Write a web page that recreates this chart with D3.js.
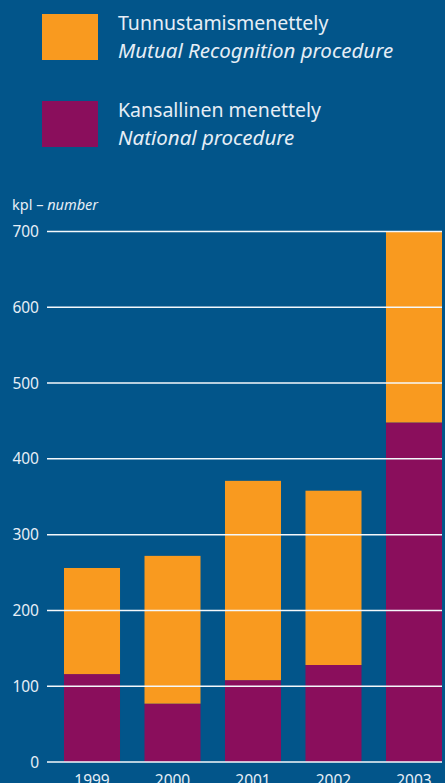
<!DOCTYPE html>
<html>
<head>
<meta charset="utf-8">
<script src="https://cdn.jsdelivr.net/npm/d3@7"></script>
<style>
  html, body { margin: 0; padding: 0; background: #02558A; }
  svg { display: block; }
  text { font-family: "Noto Sans", "Open Sans", sans-serif; fill: #E6EEF6; }
</style>
</head>
<body>
<svg id="chart" width="445" height="783"></svg>
<script>
// Medicinal product authorisations by procedure, 1999–2003
const years = ["1999", "2000", "2001", "2002", "2003"];
const national = [116, 77, 108, 128, 448];
const mutual = [140, 195, 263, 230, 252];
const yTicks = [0, 100, 200, 300, 400, 500, 600, 700];

const legendItems = [
  { fi: "Tunnustamismenettely", en: "Mutual Recognition procedure", color: "#F99A1F" },
  { fi: "Kansallinen menettely", en: "National procedure", color: "#8A0E5C" }
];

const svg = d3.select("#chart");
const W = 445, H = 783;

svg.append("rect").attr("width", W).attr("height", H).attr("fill", "#02558A");

// Legend
const lg = svg.append("g");
legendItems.forEach((d, i) => {
  const y0 = 14 + i * 87;
  lg.append("rect").attr("x", 42).attr("y", y0).attr("width", 56).attr("height", 46).attr("fill", d.color);
  lg.append("text").attr("x", 118).attr("y", y0 + 15.5).attr("font-size", 19.5).text(d.fi);
  lg.append("text").attr("x", 118).attr("y", y0 + 44).attr("font-size", 20.5).attr("font-style", "italic").text(d.en);
});

// Scales
const x = d3.scaleBand().domain(years).range([64, 442]).paddingInner(0.304).paddingOuter(0);
const y = d3.scaleLinear().domain([0, 700]).range([762, 231.5]);

const stackData = years.map((yr, i) => ({ year: yr, national: national[i], mutual: mutual[i] }));
const series = d3.stack().keys(["national", "mutual"])(stackData);
const colors = { national: "#8A0E5C", mutual: "#F99A1F" };

svg.append("g").selectAll("g").data(series).join("g")
  .attr("fill", s => colors[s.key])
  .selectAll("rect").data(s => s).join("rect")
  .attr("x", d => x(d.data.year))
  .attr("width", x.bandwidth())
  .attr("y", d => y(d[1]))
  .attr("height", d => y(d[0]) - y(d[1]));

// Gridlines over the bars
svg.append("g").selectAll("line").data(yTicks).join("line")
  .attr("x1", 47).attr("x2", 442)
  .attr("y1", d => y(d)).attr("y2", d => y(d))
  .attr("stroke", "#F4F8FB").attr("stroke-width", 1.5);

// Y tick labels
svg.append("g").selectAll("text").data(yTicks).join("text")
  .attr("x", 39).attr("y", d => y(d) + 5.5)
  .attr("text-anchor", "end").attr("font-size", 15.5)
  .text(d => d);

// Axis title
const t = svg.append("text").attr("x", 12).attr("y", 210).attr("font-size", 14.5);
t.append("tspan").text("kpl – ");
t.append("tspan").attr("font-style", "italic").text("number");

// Year labels
svg.append("g").selectAll("text").data(years).join("text")
  .attr("x", d => x(d) + x.bandwidth() / 2).attr("y", 786)
  .attr("text-anchor", "middle").attr("font-size", 15.5)
  .text(d => d);
</script>
</body>
</html>
